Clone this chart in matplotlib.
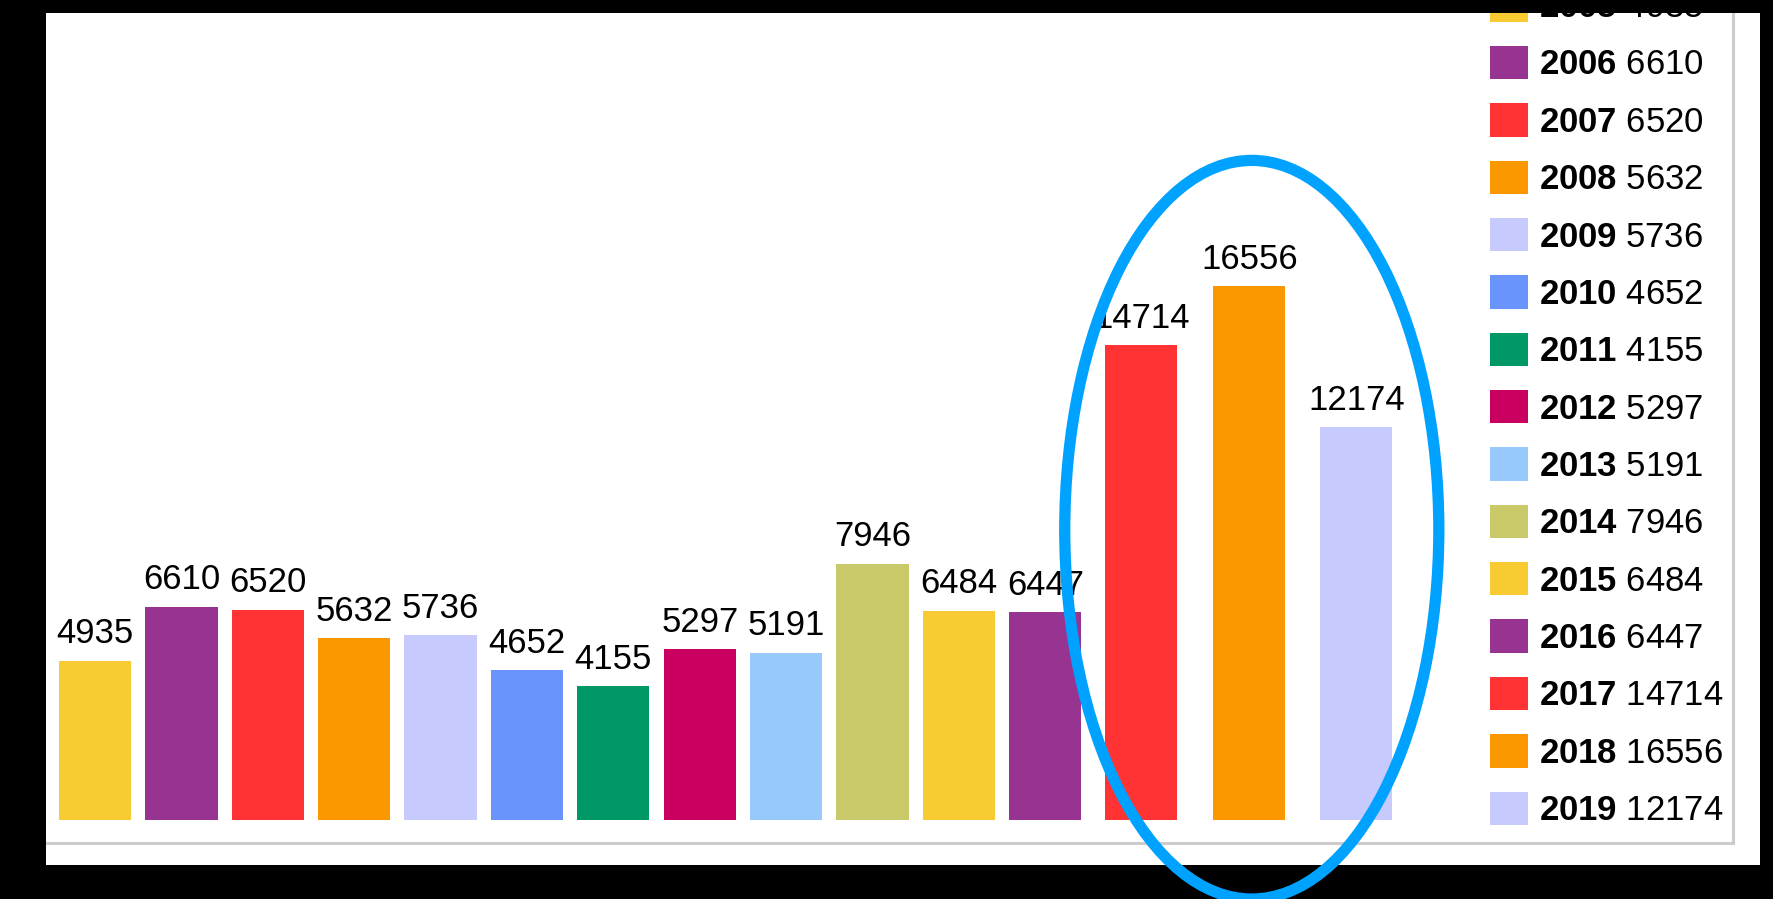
import matplotlib
matplotlib.use("Agg")
import matplotlib.pyplot as plt
from matplotlib.patches import Rectangle, Ellipse, Patch
import numpy as np

years = ["2005", "2006", "2007", "2008", "2009", "2010", "2011", "2012",
         "2013", "2014", "2015", "2016", "2017", "2018", "2019"]
values = [4935, 6610, 6520, 5632, 5736, 4652, 4155, 5297,
          5191, 7946, 6484, 6447, 14714, 16556, 12174]
colors = ["#F9CB33", "#973391", "#FF3333", "#FB9800", "#C6CAFD",
          "#6894FC", "#009866", "#C90060", "#98C9FD", "#C9C969",
          "#F9CB33", "#973391", "#FF3333", "#FB9800", "#C6CAFD"]

plt.rcParams['font.family'] = ['Liberation Sans', 'DejaVu Sans']
plt.rcParams['mathtext.fontset'] = 'custom'
plt.rcParams['mathtext.rm'] = 'Liberation Sans'
plt.rcParams['mathtext.bf'] = 'Liberation Sans:bold'

W, H = 1773, 899
fig = plt.figure(figsize=(W / 100, H / 100), dpi=100, facecolor="white")
ax = fig.add_axes([46 / W, 56 / H, (1733 - 46) / W, (843 - 13) / H])

# the last three bars sit a bit further apart
pos = np.arange(len(years), dtype=float)
pos[12:] += [0.11, 0.36, 0.60]

bars = ax.bar(pos, values, width=0.837, color=colors)
ax.bar_label(bars, labels=[str(v) for v in values], padding=7.5, fontsize=25)

ax.set_xlim(-0.567, 18.96)
ax.set_ylim(-713, 25020)
ax.set_xticks([])
ax.set_yticks([])
for s in ["top", "left"]:
    ax.spines[s].set_visible(False)
for s in ["bottom", "right"]:
    ax.spines[s].set_color("#CCCCCC")
    ax.spines[s].set_linewidth(2.2)

handles = [Patch(facecolor=c, edgecolor="none") for c in colors]
labels = [r"$\mathbf{%s}$ %d" % (y, v) for y, v in zip(years, values)]
ax.legend(handles, labels, loc="lower left",
          bbox_to_anchor=(1490 / W, 72 / H), bbox_transform=fig.transFigure,
          frameon=False, fontsize=25, borderpad=0, borderaxespad=0,
          handlelength=1.1, handleheight=1.1, handletextpad=0.3,
          labelspacing=0.63)

# black frame around the screenshot
for x0, y0, w, h in [(0, H - 13, W, 13), (0, 0, 46, H), (0, 0, W, H - 865),
                     (1760, 0, W - 1760, H)]:
    fig.add_artist(Rectangle((x0 / W, y0 / H), w / W, h / H,
                             transform=fig.transFigure, facecolor="black",
                             edgecolor="none", zorder=3))

# blue highlight ellipse around the last three years
ell = Ellipse((pos[13] + 0.03, 9000), 4.33, 22900, transform=ax.transData,
              fill=False, edgecolor="#00A2FF", linewidth=8.1, zorder=5)
fig.add_artist(ell)

fig.savefig("out.png", dpi=100, facecolor=fig.get_facecolor())
